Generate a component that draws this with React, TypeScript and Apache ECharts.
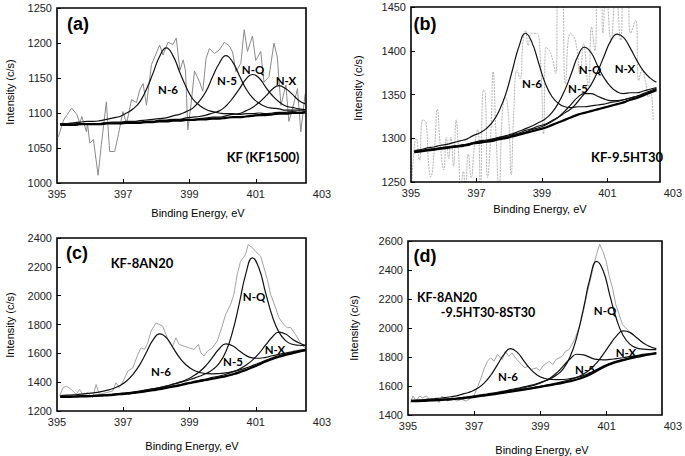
import React, { useEffect, useRef } from "react";
import * as echarts from "echarts";

// Energy grid for fitted components (eV)
const GRID_E = [395.1, 395.3, 395.5, 395.7, 395.9, 396.1, 396.3, 396.5, 396.7, 396.9, 397.1, 397.3, 397.5, 397.7, 397.9, 398.1, 398.3, 398.5, 398.7, 398.9, 399.1, 399.3, 399.5, 399.7, 399.9, 400.1, 400.3, 400.5, 400.7, 400.9, 401.1, 401.3, 401.5, 401.7, 401.9, 402.1, 402.3, 402.5];
const X_TICKS = [395, 397, 399, 401, 403];

// ---- Panel (a) KF (KF1500)
const A_BASE = [1083, 1083, 1083, 1084, 1084, 1084, 1084, 1085, 1085, 1085, 1086, 1086, 1086, 1087, 1087, 1088, 1088, 1089, 1089, 1090, 1090, 1091, 1091, 1092, 1092, 1093, 1094, 1094, 1095, 1096, 1097, 1097, 1098, 1099, 1099, 1100, 1100, 1101];
const A_N6 = [2, 2, 3, 3, 4, 4, 5, 6, 8, 10, 14, 20, 30, 47, 70, 93, 105, 93, 70, 47, 30, 20, 14, 10, 8, 6, 5, 4, 4, 3, 3, 2, 2, 2, 2, 2, 1, 1];
const A_N5 = [1, 1, 1, 1, 1, 1, 1, 1, 2, 2, 2, 2, 3, 3, 4, 4, 5, 7, 9, 12, 17, 26, 40, 60, 79, 89, 79, 60, 40, 26, 17, 12, 9, 7, 5, 4, 4, 3];
const A_NQ = [1, 1, 1, 1, 1, 1, 1, 1, 1, 1, 1, 1, 1, 1, 1, 2, 2, 2, 2, 3, 4, 4, 6, 8, 11, 17, 27, 40, 53, 59, 53, 40, 27, 17, 11, 8, 6, 4];
const A_NX = [0, 0, 0, 0, 0, 0, 0, 0, 0, 0, 0, 0, 0, 1, 1, 1, 1, 1, 1, 1, 1, 1, 2, 2, 2, 3, 4, 5, 8, 12, 18, 27, 36, 40, 36, 27, 18, 12];
const A_RAW = [[395.04, 1066], [395.2, 1090], [395.44, 1107], [395.6, 1098], [395.69, 1085], [395.75, 1095], [395.89, 1073], [395.92, 1085], [395.99, 1057], [396.1, 1062], [396.24, 1011], [396.34, 1055], [396.49, 1116], [396.59, 1045], [396.74, 1045], [396.84, 1066], [396.99, 1102], [397.1, 1085], [397.25, 1119], [397.4, 1115], [397.5, 1133], [397.6, 1142], [397.7, 1111], [397.85, 1169], [398.1, 1197], [398.2, 1183], [398.35, 1201], [398.5, 1198], [398.6, 1207], [398.71, 1161], [398.81, 1176], [398.88, 1160], [398.95, 1076], [399.05, 1114], [399.15, 1160], [399.3, 1145], [399.4, 1131], [399.5, 1178], [399.6, 1192], [399.75, 1185], [399.9, 1190], [400.05, 1201], [400.2, 1196], [400.3, 1187], [400.4, 1159], [400.55, 1171], [400.65, 1219], [400.75, 1188], [400.9, 1210], [401.0, 1175], [401.15, 1188], [401.25, 1144], [401.4, 1152], [401.55, 1200], [401.65, 1180], [401.76, 1111], [401.91, 1140], [402.0, 1088], [402.1, 1104], [402.26, 1135], [402.36, 1073], [402.49, 1127]];

// ---- Panel (b) KF-9.5HT30
const B_BASE = [1284, 1285, 1286, 1287, 1288, 1289, 1290, 1291, 1292, 1294, 1295, 1296, 1297, 1299, 1300, 1302, 1304, 1306, 1308, 1310, 1312, 1315, 1318, 1321, 1324, 1327, 1329, 1331, 1333, 1335, 1337, 1339, 1341, 1344, 1346, 1349, 1352, 1355];
const B_N6 = [2, 2, 3, 3, 4, 4, 5, 6, 7, 9, 11, 15, 22, 33, 51, 76, 101, 114, 101, 76, 51, 33, 22, 15, 11, 9, 7, 6, 5, 4, 4, 3, 3, 2, 2, 2, 2, 2];
const B_N5 = [0, 0, 0, 0, 0, 0, 0, 0, 0, 0, 0, 0, 1, 1, 1, 1, 1, 1, 2, 2, 3, 4, 6, 10, 15, 20, 22, 20, 15, 10, 6, 4, 3, 2, 2, 1, 1, 1];
const B_NQ = [1, 1, 1, 1, 1, 1, 1, 1, 1, 1, 2, 2, 2, 2, 3, 3, 4, 5, 6, 8, 10, 14, 22, 34, 50, 67, 75, 67, 50, 34, 22, 14, 10, 8, 6, 5, 4, 3];
const B_NX = [1, 1, 1, 1, 1, 1, 1, 1, 1, 1, 1, 1, 2, 2, 2, 2, 2, 3, 3, 4, 4, 5, 6, 8, 10, 15, 22, 30, 43, 59, 74, 80, 74, 59, 43, 28, 17, 9];
const B_RAW = [[395.02, 1240], [395.06, 1272], [395.16, 1300], [395.26, 1275], [395.36, 1321], [395.46, 1318], [395.53, 1275], [395.6, 1256], [395.72, 1290], [395.8, 1333], [395.9, 1290], [396.0, 1264], [396.08, 1301], [396.15, 1277], [396.22, 1301], [396.3, 1268], [396.38, 1321], [396.45, 1287], [396.52, 1240], [396.6, 1262], [396.66, 1240], [396.75, 1282], [396.84, 1255], [396.94, 1291], [397.04, 1310], [397.12, 1240], [397.21, 1355], [397.27, 1352], [397.34, 1255], [397.44, 1306], [397.51, 1376], [397.6, 1302], [397.69, 1240], [397.79, 1329], [397.88, 1347], [397.98, 1325], [398.06, 1258], [398.14, 1330], [398.24, 1378], [398.33, 1368], [398.43, 1413], [398.5, 1423], [398.58, 1406], [398.68, 1420], [398.83, 1420], [398.95, 1393], [399.05, 1305], [399.13, 1404], [399.27, 1397], [399.42, 1374], [399.5, 1470], [399.6, 1470], [399.72, 1362], [399.87, 1420], [400.02, 1412], [400.17, 1374], [400.27, 1408], [400.42, 1359], [400.52, 1427], [400.62, 1400], [400.72, 1470], [400.81, 1470], [400.86, 1420], [400.96, 1470], [401.11, 1412], [401.26, 1470], [401.41, 1412], [401.51, 1470], [401.61, 1470], [401.71, 1420], [401.86, 1435], [401.96, 1366], [402.06, 1378], [402.16, 1366], [402.26, 1347], [402.32, 1352], [402.4, 1320]];

// ---- Panel (c) KF-8AN20
const C_BASE = [1297, 1298, 1299, 1301, 1302, 1304, 1306, 1309, 1312, 1316, 1320, 1325, 1330, 1337, 1344, 1351, 1360, 1369, 1378, 1388, 1398, 1407, 1415, 1424, 1433, 1442, 1454, 1468, 1485, 1503, 1523, 1543, 1561, 1576, 1589, 1600, 1611, 1620];
const C_N6 = [10, 12, 13, 16, 19, 22, 27, 34, 44, 61, 88, 131, 192, 271, 349, 384, 349, 271, 192, 131, 88, 61, 44, 34, 27, 22, 19, 16, 13, 12, 10, 9, 8, 7, 6, 6, 5, 5];
const C_N5 = [2, 2, 2, 2, 2, 3, 3, 4, 4, 5, 5, 6, 7, 8, 9, 11, 13, 17, 22, 29, 43, 65, 101, 150, 199, 224, 199, 150, 101, 65, 43, 29, 22, 17, 13, 11, 9, 8];
const C_NQ = [3, 3, 3, 4, 4, 4, 4, 5, 5, 6, 6, 7, 8, 9, 10, 11, 13, 16, 19, 22, 27, 34, 45, 63, 99, 171, 296, 475, 666, 759, 666, 475, 296, 171, 99, 63, 45, 34];
const C_NX = [1, 1, 1, 1, 1, 1, 1, 1, 2, 2, 2, 2, 2, 2, 3, 3, 3, 4, 4, 5, 5, 6, 7, 9, 10, 13, 17, 22, 32, 50, 77, 115, 152, 171, 145, 100, 62, 35];
const C_RAW = [[395.08, 1304], [395.18, 1361], [395.28, 1373], [395.43, 1350], [395.58, 1315], [395.68, 1350], [395.78, 1315], [395.93, 1327], [396.08, 1292], [396.18, 1384], [396.28, 1315], [396.48, 1327], [396.68, 1338], [396.78, 1396], [396.88, 1361], [397.0, 1408], [397.14, 1477], [397.29, 1500], [397.44, 1592], [397.54, 1638], [397.64, 1627], [397.74, 1673], [397.84, 1754], [397.99, 1811], [398.09, 1800], [398.19, 1788], [398.29, 1731], [398.39, 1673], [398.49, 1650], [398.59, 1708], [398.69, 1661], [398.84, 1650], [398.99, 1638], [399.14, 1627], [399.27, 1661], [399.34, 1604], [399.44, 1581], [399.54, 1615], [399.69, 1638], [399.84, 1685], [399.97, 1777], [400.09, 1869], [400.24, 1938], [400.34, 2008], [400.44, 2146], [400.54, 2238], [400.69, 2285], [400.77, 2354], [400.89, 2335], [400.99, 2308], [401.15, 2273], [401.25, 2192], [401.35, 2112], [401.45, 2008], [401.6, 1915], [401.7, 1846], [401.85, 1800], [401.95, 1777], [402.05, 1780], [402.2, 1731], [402.35, 1673], [402.48, 1638]];

// ---- Panel (d) KF-8AN20-9.5HT30-8ST30
const D_BASE = [1495, 1496, 1498, 1500, 1502, 1505, 1508, 1512, 1517, 1522, 1528, 1534, 1540, 1547, 1554, 1561, 1568, 1575, 1582, 1590, 1598, 1606, 1614, 1623, 1633, 1645, 1660, 1680, 1705, 1730, 1750, 1766, 1778, 1790, 1800, 1809, 1817, 1824];
const D_N6 = [7, 8, 9, 11, 12, 15, 18, 22, 30, 39, 56, 86, 134, 199, 264, 297, 264, 199, 134, 86, 56, 39, 30, 22, 18, 15, 12, 11, 9, 8, 7, 6, 5, 5, 4, 4, 3, 3];
const D_N5 = [2, 2, 2, 2, 2, 2, 3, 3, 3, 4, 4, 5, 5, 6, 7, 9, 10, 13, 17, 23, 33, 50, 78, 117, 155, 174, 155, 117, 78, 50, 33, 23, 17, 13, 10, 9, 7, 6];
const D_NQ = [3, 3, 3, 4, 4, 4, 5, 5, 6, 6, 7, 8, 9, 10, 11, 14, 16, 19, 22, 27, 34, 45, 63, 99, 170, 294, 473, 663, 755, 663, 473, 294, 170, 99, 63, 45, 34, 27];
const D_NX = [1, 1, 1, 1, 1, 1, 1, 1, 1, 1, 2, 2, 2, 2, 2, 2, 3, 3, 4, 4, 5, 6, 7, 9, 11, 15, 22, 34, 55, 90, 135, 180, 202, 180, 135, 90, 55, 34];
const D_RAW = [[395.07, 1485], [395.15, 1531], [395.25, 1496], [395.35, 1531], [395.44, 1519], [395.56, 1531], [395.69, 1496], [395.83, 1519], [395.93, 1485], [396.03, 1531], [396.18, 1496], [396.33, 1519], [396.47, 1496], [396.62, 1508], [396.76, 1496], [396.91, 1519], [397.01, 1542], [397.11, 1599], [397.21, 1657], [397.31, 1725], [397.4, 1771], [397.5, 1794], [397.6, 1771], [397.7, 1817], [397.85, 1782], [397.94, 1840], [398.04, 1805], [398.14, 1828], [398.29, 1782], [398.43, 1748], [398.53, 1725], [398.63, 1737], [398.73, 1714], [398.88, 1725], [398.98, 1705], [399.07, 1737], [399.27, 1771], [399.37, 1748], [399.47, 1782], [399.66, 1805], [399.76, 1840], [399.86, 1851], [399.98, 1897], [400.05, 1931], [400.2, 2023], [400.3, 2115], [400.4, 2229], [400.5, 2321], [400.59, 2412], [400.69, 2504], [400.79, 2577], [400.89, 2527], [400.99, 2458], [401.08, 2355], [401.18, 2275], [401.28, 2160], [401.38, 2092], [401.48, 2023], [401.58, 2000], [401.68, 1977], [401.77, 1954], [401.92, 1931], [402.02, 1908], [402.17, 1885], [402.31, 1874], [402.43, 1858]];

const Y_A = { min: 1000, max: 1250, interval: 50 };
const Y_B = { min: 1250, max: 1450, interval: 50 };
const Y_C = { min: 1200, max: 2400, interval: 200 };
const Y_D = { min: 1400, max: 2600, interval: 200 };

const TICK_FONT = "Liberation Sans";

function comp(base: number[], peak: number[] | null) {
  return GRID_E.map((e, i) => [e, base[i] + (peak ? peak[i] : 0)]);
}

function panelSeries(gi: number, base: number[], peaks: number[][], raw: number[][], rawStyle: any, rawSmooth: number) {
  const s: any[] = [];
  s.push({
    type: "line", xAxisIndex: gi, yAxisIndex: gi, data: raw, showSymbol: false, smooth: rawSmooth,
    lineStyle: rawStyle, z: 2, silent: true,
  });
  peaks.forEach((p) => {
    s.push({
      type: "line", xAxisIndex: gi, yAxisIndex: gi, data: comp(base, p), showSymbol: false, smooth: 0.5,
      lineStyle: { color: "#111", width: 1.2 }, z: 3, silent: true,
    });
  });
  s.push({
    type: "line", xAxisIndex: gi, yAxisIndex: gi, data: comp(base, null), showSymbol: false, smooth: 0.5,
    lineStyle: { color: "#000", width: 2.2 }, z: 4, silent: true,
  });
  return s;
}

export default function App() {
  const ref = useRef<HTMLDivElement>(null);
  useEffect(() => {
    document.body.style.margin = "0";
    const chart = echarts.init(ref.current!, null, { renderer: "svg" });
    const grids = [
      { left: 57, top: 8, width: 265, height: 175 },
      { left: 411, top: 7, width: 269, height: 175 },
      { left: 57, top: 238, width: 265, height: 173 },
      { left: 408, top: 241, width: 272, height: 174 },
    ];
    const boxes = [
      { x: 57, y: 8, width: 249, height: 175 },
      { x: 411, y: 7, width: 249, height: 175 },
      { x: 57, y: 238, width: 249, height: 173 },
      { x: 408, y: 241, width: 254, height: 174 },
    ];
    const ys = [Y_A, Y_B, Y_C, Y_D];
    const plain = (v: number) => String(v);
    const xAxis = grids.map((_, gi) => ({
      type: "value", gridIndex: gi, min: X_TICKS[0], max: X_TICKS[X_TICKS.length - 1], interval: 2,
      axisLine: { show: false }, splitLine: { show: false },
      axisTick: { show: true, inside: true, length: 4, customValues: [397, 399, 401], lineStyle: { color: "#000", width: 1 } },
      axisLabel: { fontFamily: TICK_FONT, fontSize: 11, color: "#222", margin: 5, formatter: plain },
    }));
    const yAxis = ys.map((y, gi) => ({
      type: "value", gridIndex: gi, min: y.min, max: y.max, interval: y.interval,
      axisLine: { show: false }, splitLine: { show: false },
      axisTick: { show: true, inside: true, length: 4, lineStyle: { color: "#000", width: 1 } },
      axisLabel: { fontFamily: TICK_FONT, fontSize: 11, color: "#222", margin: 5, formatter: plain },
    }));
    const grayA = { color: "#8a8a8a", width: 1 };
    const grayB = { color: "#a0a0a0", width: 0.8, type: [2, 1] };
    const grayC = { color: "#999", width: 0.9 };
    const series = [
      ...panelSeries(0, A_BASE, [A_N6, A_N5, A_NQ, A_NX], A_RAW, grayA, 0),
      ...panelSeries(1, B_BASE, [B_N6, B_N5, B_NQ, B_NX], B_RAW, grayB, 0.5),
      ...panelSeries(2, C_BASE, [C_N6, C_N5, C_NQ, C_NX], C_RAW, grayC, 0),
      ...panelSeries(3, D_BASE, [D_N6, D_N5, D_NQ, D_NX], D_RAW, grayC, 0),
    ];

    const txt = (x: number, y: number, text: string, font: string, extra: any = {}) => ({
      type: "text", x, y, z: 120, silent: true, ...extra,
      style: { text, font, fill: "#000", align: "center", verticalAlign: "middle" },
    });
    const lab = "bold 11.5px Lato";
    const big = "bold 18px 'Liberation Sans'";
    const name = "bold 13px Lato";
    const name2 = "bold 12.5px Lato";
    const axisT = "11px 'Liberation Sans'";
    const graphic: any[] = [
      ...boxes.map((b) => ({
        type: "rect", shape: b, z: 110, silent: true,
        style: { fill: "none", stroke: "#000", lineWidth: 1.6 },
      })),
      // panel a
      txt(78, 24, "(a)", big),
      txt(168, 89, "N-6", lab), txt(227, 80, "N-5", lab), txt(253, 69, "N-Q", lab), txt(286, 80, "N-X", lab),
      txt(263, 157, "KF (KF1500)", name),
      // panel b
      txt(425, 24, "(b)", big),
      txt(532, 83, "N-6", lab), txt(578, 88, "N-5", lab), txt(590, 69, "N-Q", lab), txt(625, 68, "N-X", lab),
      txt(627, 157, "KF-9.5HT30", name),
      // panel c
      txt(77, 253, "(c)", big),
      txt(142, 263, "KF-8AN20", name),
      txt(161, 371, "N-6", lab), txt(233, 361, "N-5", lab), txt(254, 296, "N-Q", lab), txt(275, 349, "N-X", lab),
      // panel d
      txt(425, 256, "(d)", big),
      txt(447, 297, "KF-8AN20", name2),
      txt(488, 312, "-9.5HT30-8ST30", name2),
      txt(508, 376, "N-6", lab), txt(585, 369, "N-5", lab), txt(605, 310, "N-Q", lab), txt(626, 352, "N-X", lab),
      // axis titles
      txt(198, 213, "Binding Energy, eV", axisT),
      txt(540, 209, "Binding Energy, eV", axisT),
      txt(192, 446, "Binding Energy, eV", axisT),
      txt(542, 450, "Binding Energy, eV", axisT),
      txt(10, 92, "Intensity (c/s)", axisT, { rotation: Math.PI / 2 }),
      txt(358, 88, "Intensity (c/s)", axisT, { rotation: Math.PI / 2 }),
      txt(10, 325, "Intensity (c/s)", axisT, { rotation: Math.PI / 2 }),
      txt(354, 328, "Intensity (c/s)", axisT, { rotation: Math.PI / 2 }),
    ];

    chart.setOption({
      animation: false,
      backgroundColor: "#fff",
      grid: grids,
      xAxis,
      yAxis,
      series,
      graphic,
    });
    return () => chart.dispose();
  }, []);
  return <div ref={ref} style={{ position: "fixed", left: 0, top: 0, width: 685, height: 456 }} />;
}
